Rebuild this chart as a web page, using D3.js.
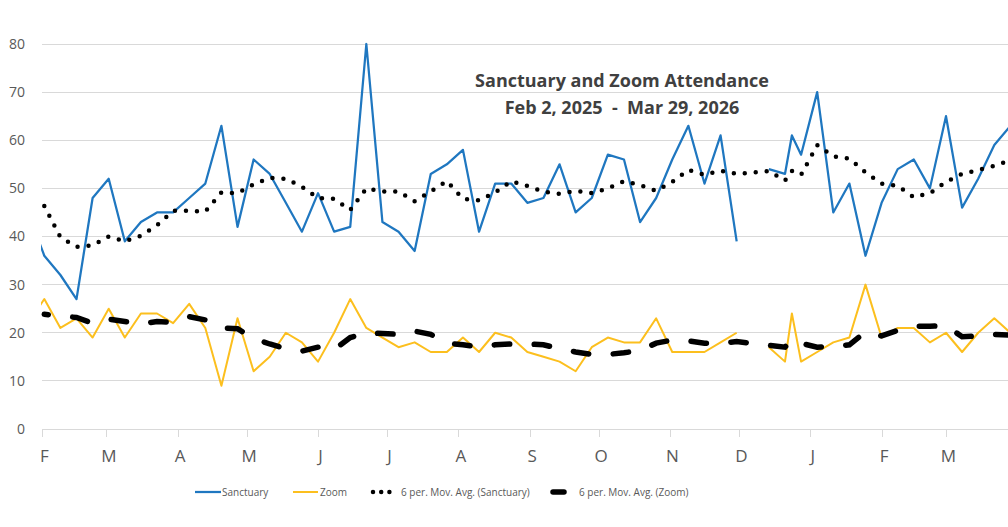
<!DOCTYPE html>
<head>
  <meta charset="utf-8">
  <script src="https://d3js.org/d3.v7.min.js"></script>
  <style>
    body { margin: 0; background: #fff; }
    text { font-family: "Open Sans", sans-serif; fill: #595959; }
    text.title { font-size: 18px; font-weight: 700; fill: #404040; white-space: pre; }
    .yAxis text { font-size: 14px; }
    .xAxis text { font-size: 17px; }
    .legend text { font-size: 10px; }
    .grid line { stroke: #d9d9d9; stroke-width: 1; shape-rendering: crispEdges; }
    .xAxis path, .xAxis line { stroke: #d9d9d9; shape-rendering: crispEdges; }
    .yAxis path, .yAxis line { display: none; }
  </style>
</head>
<body>
<script>
// weeks before the visible window (only feed the moving averages / clipped stub)
const priorDates = ["2024-12-29", "2025-01-05", "2025-01-12", "2025-01-19", "2025-01-26"];
const priorSanctuary = [71, 39, 46, 41, 45];
const priorZoom = [23, 25, 26, 20, 22];

const dates = [
  "2025-02-02", "2025-02-09", "2025-02-16", "2025-02-23", "2025-03-02", "2025-03-09", "2025-03-16",
  "2025-03-23", "2025-03-30", "2025-04-06", "2025-04-13", "2025-04-20", "2025-04-27", "2025-05-04",
  "2025-05-11", "2025-05-18", "2025-05-25", "2025-06-01", "2025-06-08", "2025-06-15", "2025-06-22",
  "2025-06-29", "2025-07-06", "2025-07-13", "2025-07-20", "2025-07-27", "2025-08-03", "2025-08-10",
  "2025-08-17", "2025-08-24", "2025-08-31", "2025-09-07", "2025-09-14", "2025-09-21", "2025-09-28",
  "2025-10-05", "2025-10-12", "2025-10-19", "2025-10-26", "2025-11-02", "2025-11-09", "2025-11-16",
  "2025-11-23", "2025-11-30", "2025-12-07", "2025-12-14", "2025-12-21", "2025-12-24", "2025-12-28",
  "2026-01-04", "2026-01-11", "2026-01-18", "2026-01-25", "2026-02-01", "2026-02-08", "2026-02-15",
  "2026-02-22", "2026-03-01", "2026-03-08", "2026-03-15", "2026-03-22", "2026-03-29"
];
const sanctuary = [
  36, 32, 27, 48, 52, 39, 43, 45, 45, 48, 51, 63, 42, 56, 53, 47, 41, 49, 41, 42, 80,
  43, 41, 37, 53, 55, 58, 41, 51, 51, 47, 48, 55, 45, 48, 57, 56, 43, 48, 56, 63, 51,
  61, 39, null, 54, 53, 61, 57, 70, 45, 51, 36, 47, 54, 56, 50, 65, 46, 52, 59, 63
];
const zoom = [
  27, 21, 23, 19, 25, 19, 24, 24, 22, 26, 21, 9, 23, 12, 15, 20, 18, 14, 20, 27, 21,
  19, 17, 18, 16, 16, 19, 16, 20, 19, 16, 15, 14, 12, 17, 19, 18, 18, 23, 16, 16, 16,
  18, 20, null, 17, 14, 24, 14, 16, 18, 19, 30, 19, 21, 21, 18, 20, 16, 20, 23, 20
];
const yTicks = [0, 10, 20, 30, 40, 50, 60, 70, 80];
const period = 6;
const titleLines = ["Sanctuary and Zoom Attendance", "Feb 2, 2025  -  Mar 29, 2026"];

const width = 1008, height = 527;
const parse = d3.utcParse("%Y-%m-%d");

const allDates = priorDates.concat(dates).map(parse);
const allSanct = priorSanctuary.concat(sanctuary);
const allZoom = priorZoom.concat(zoom);

// Excel-style moving average: last `period` rows, blank cells skipped
function movingAvg(vals) {
  return vals.map((v, i) => {
    if (i < period - 1 || v == null) return null;
    return d3.mean(vals.slice(i - period + 1, i + 1).filter(d => d != null));
  });
}

const rows = allDates.map((d, i) => ({date: d, s: allSanct[i], z: allZoom[i]}));
const maS = movingAvg(allSanct), maZ = movingAvg(allZoom);
rows.forEach((r, i) => { r.maS = maS[i]; r.maZ = maZ[i]; });

const svg = d3.select("body").append("svg")
  .attr("width", width)
  .attr("height", height);

let x = d3.scaleUtc()
  .domain([parse("2025-02-01"), parse("2026-03-01")])
  .range([42, 946]);
let y = d3.scaleLinear()
  .domain([0, 80])
  .range([429, 44]);

// gridlines
svg.append("g").attr("class", "grid")
  .selectAll("line")
  .data(yTicks.filter(d => d > 0))
  .enter().append("line")
  .attr("x1", x.range()[0]).attr("x2", width)
  .attr("y1", d => y(d)).attr("y2", d => y(d));

// y axis labels
svg.append("g").attr("class", "yAxis")
  .attr("transform", `translate(${x.range()[0]},0)`)
  .call(d3.axisLeft(y).tickValues(yTicks).tickSize(0).tickPadding(17));

// x axis
const months = d3.utcMonth.range(parse("2025-02-01"), parse("2026-03-02"));
svg.append("g").attr("class", "xAxis")
  .attr("transform", `translate(0,${y(0)})`)
  .call(d3.axisBottom(x).tickValues(months).tickSize(8).tickSizeOuter(0).tickPadding(13)
    .tickFormat(d => d3.utcFormat("%b")(d)[0]))
  .call(g => g.select(".domain").attr("d", `M${x.range()[0]},0.5H${width}`))
  .selectAll("text").attr("dx", 2);

svg.append("clipPath").attr("id", "plotClip")
  .append("rect")
  .attr("x", x.range()[0] - 1).attr("y", 0)
  .attr("width", width).attr("height", height);

const plot = svg.append("g").attr("clip-path", "url(#plotClip)");

const lineS = d3.line().defined(d => d.s != null).x(d => x(d.date)).y(d => y(d.s));
const lineZ = d3.line().defined(d => d.z != null).x(d => x(d.date)).y(d => y(d.z));
const lineMaS = d3.line().x(d => x(d.date)).y(d => y(d.maS));
const lineMaZ = d3.line().x(d => x(d.date)).y(d => y(d.maZ));

plot.append("path")
  .attr("d", lineS(rows))
  .attr("fill", "none").attr("stroke", "#1f77c0").attr("stroke-width", 2.25)
  .attr("stroke-linejoin", "round");

plot.append("path")
  .attr("d", lineZ(rows))
  .attr("fill", "none").attr("stroke", "#fcbf1e").attr("stroke-width", 2)
  .attr("stroke-linejoin", "round");

plot.append("path")
  .attr("d", lineMaS(rows.filter(r => r.maS != null)))
  .attr("fill", "none").attr("stroke", "#000").attr("stroke-width", 4.5)
  .attr("stroke-linecap", "round").attr("stroke-dasharray", "0 11");

plot.append("path")
  .attr("d", lineMaZ(rows.filter(r => r.maZ != null)))
  .attr("fill", "none").attr("stroke", "#000").attr("stroke-width", 5.5)
  .attr("stroke-linecap", "round").attr("stroke-dasharray", "15.5 24.5")
  .attr("stroke-dashoffset", 11.5);

// title
svg.selectAll("text.title")
  .data(titleLines)
  .enter().append("text")
  .attr("class", "title")
  .attr("x", 622)
  .attr("y", (d, i) => 87 + i * 27)
  .attr("text-anchor", "middle")
  .text(d => d);

// legend
const legend = svg.append("g").attr("class", "legend").attr("transform", "translate(0,492)");
const legendItems = [
  {label: "Sanctuary", x0: 195, x1: 221, tx: 222, stroke: "#1f77c0", w: 2.25, dash: null},
  {label: "Zoom", x0: 293, x1: 318, tx: 320, stroke: "#fcbf1e", w: 2, dash: null},
  {label: "6 per. Mov. Avg. (Sanctuary)", x0: 373, x1: 391, tx: 401, stroke: "#000", w: 4.5, dash: "0 8.2"},
  {label: "6 per. Mov. Avg. (Zoom)", x0: 553, x1: 564, tx: 579, stroke: "#000", w: 5.5, dash: null}
];
legendItems.forEach((d, i) => {
  legend.append("line")
    .attr("x1", d.x0).attr("x2", d.x1).attr("y1", 0).attr("y2", 0)
    .attr("stroke", d.stroke).attr("stroke-width", d.w)
    .attr("stroke-linecap", i >= 2 ? "round" : "butt")
    .attr("stroke-dasharray", d.dash);
  legend.append("text")
    .attr("x", d.tx).attr("y", 0).attr("dy", "0.35em")
    .text(d.label);
});
</script>
</body>
